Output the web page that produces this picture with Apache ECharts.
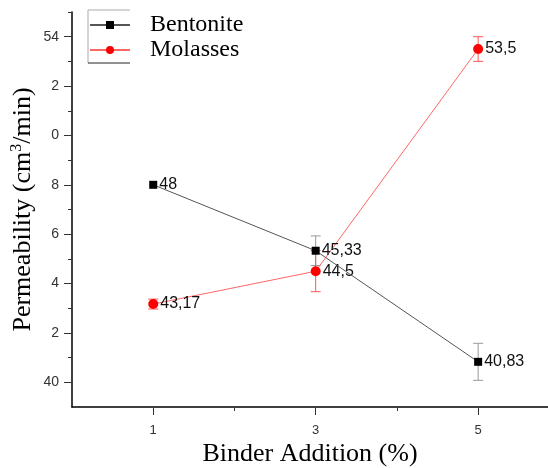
<!DOCTYPE html>
<html><head><meta charset="utf-8">
<script src="https://cdn.jsdelivr.net/npm/echarts@6/dist/echarts.min.js"></script>
<style>html,body{margin:0;padding:0;background:#fff}#c{width:548px;height:468px}</style>
</head><body><div id="c"></div>
<script>
const binder = [1, 3, 5];
const bentonite = [48, 45.33, 40.83];
const bentoniteErr = [0, 0.6, 0.75];
const molasses = [43.17, 44.5, 53.5];
const molassesErr = [0.2, 0.83, 0.5];
const xTicks = [1, 3, 5];
const xTickLabels = ['1', '3', '5'];
const xMinor = [2, 4];
const yTicks = [40, 42, 44, 46, 48, 50, 52, 54];
const yTickLabels = ['40', '2', '4', '6', '8', '0', '2', '54'];
const yMinor = [41, 43, 45, 47, 49, 51, 53, 55];

const fmt = v => String(v).replace('.', ',');
const pts = (ys) => binder.map((x, i) => [x, ys[i]]);
const errPts = (ys, es) => binder.map((x, i) => [x, ys[i], es[i]]);

function errRender(color, cap) {
  return function (params, api) {
    const x = api.value(0), y = api.value(1), e = api.value(2);
    if (!e) return null;
    const lo = api.coord([x, y - e]), hi = api.coord([x, y + e]);
    const st = { stroke: color, lineWidth: 1 };
    return { type: 'group', children: [
      { type: 'line', shape: { x1: lo[0], y1: lo[1], x2: hi[0], y2: hi[1] }, style: st },
      { type: 'line', shape: { x1: lo[0] - cap, y1: lo[1], x2: lo[0] + cap, y2: lo[1] }, style: st },
      { type: 'line', shape: { x1: hi[0] - cap, y1: hi[1], x2: hi[0] + cap, y2: hi[1] }, style: st }
    ]};
  };
}

const chart = echarts.init(document.getElementById('c'));
const serif = "'Liberation Serif', 'Times New Roman', serif";
const sans = "'Liberation Sans', Arial, sans-serif";
chart.setOption({
  animation: false,
  grid: { left: 72, right: 0, top: 12, bottom: 61, containLabel: false, outerBoundsMode: 'none' },
  legend: {
    left: 89, top: 13, padding: 0, orient: 'vertical', itemWidth: 40, itemHeight: 10, itemGap: 1,
    textStyle: { fontFamily: serif, fontSize: 24, color: '#000', padding: [0, 0, 0, 15] },
    data: ['Bentonite', 'Molasses']
  },
  xAxis: [{
    type: 'value', min: 0, max: 5.86,
    axisLine: { lineStyle: { color: '#000', width: 1.5 } },
    axisTick: { customValues: xTicks, length: 8, lineStyle: { color: '#333' } },
    axisLabel: { customValues: xTicks, formatter: v => xTickLabels[xTicks.indexOf(v)], fontFamily: sans, fontSize: 13, color: '#333', margin: 17 },
    splitLine: { show: false },
    name: 'Binder Addition (%)', nameLocation: 'middle', nameGap: 34, nameMoveOverlap: false,
    nameTextStyle: { fontFamily: serif, fontSize: 26, color: '#000' }
  }, {
    type: 'value', min: 0, max: 5.86, position: 'bottom',
    axisLine: { show: false },
    axisTick: { customValues: xMinor, length: 4, lineStyle: { color: '#333' } },
    axisLabel: { show: false }, splitLine: { show: false }
  }],
  yAxis: [{
    type: 'value', min: 39, max: 55,
    axisLine: { show: true, lineStyle: { color: '#000', width: 1.5 } },
    axisTick: { show: true, customValues: yTicks, length: 8, lineStyle: { color: '#333' } },
    axisLabel: { customValues: yTicks, formatter: v => yTickLabels[yTicks.indexOf(v)], fontFamily: sans, fontSize: 14, color: '#333', margin: 13 },
    splitLine: { show: false },
    name: 'Permeability (cm{sup|3}/min)', nameLocation: 'middle', nameGap: 34, nameMoveOverlap: false,
    nameTextStyle: { fontFamily: serif, fontSize: 26, color: '#000',
      rich: { sup: { fontFamily: serif, fontSize: 16, verticalAlign: 'top', padding: [0, 0, 13, 0] } } }
  }, {
    type: 'value', min: 39, max: 55, position: 'left',
    axisLine: { show: false },
    axisTick: { show: true, customValues: yMinor, length: 4, lineStyle: { color: '#333' } },
    axisLabel: { show: false }, splitLine: { show: false }
  }],
  graphic: [
    { type: 'polyline', shape: { points: [[130, 10], [88, 10], [88, 63]] }, style: { stroke: '#aaa', lineWidth: 1, fill: null } },
    { type: 'line', shape: { x1: 88, y1: 63, x2: 130, y2: 63 }, style: { stroke: '#222', lineWidth: 1 } }
  ],
  series: [
    { type: 'custom', name: 'errB', renderItem: errRender('#999', 5), data: errPts(bentonite, bentoniteErr), z: 1, silent: true },
    { type: 'custom', name: 'errM', renderItem: errRender('#f55', 5), data: errPts(molasses, molassesErr), z: 1, silent: true },
    { type: 'line', name: 'Molasses', data: pts(molasses), z: 3,
      symbol: 'circle', symbolSize: 10, itemStyle: { color: '#f00' },
      lineStyle: { color: '#f66', width: 1 },
      label: { show: true, position: 'right', distance: 2, formatter: p => fmt(p.value[1]), fontFamily: sans, fontSize: 16, color: '#111' } },
    { type: 'line', name: 'Bentonite', data: pts(bentonite), z: 4,
      symbol: 'rect', symbolSize: 8, itemStyle: { color: '#000' },
      lineStyle: { color: '#555', width: 1 },
      label: { show: true, position: 'right', distance: 2, formatter: p => fmt(p.value[1]), fontFamily: sans, fontSize: 16, color: '#111' } }
  ]
});
</script></body></html>
